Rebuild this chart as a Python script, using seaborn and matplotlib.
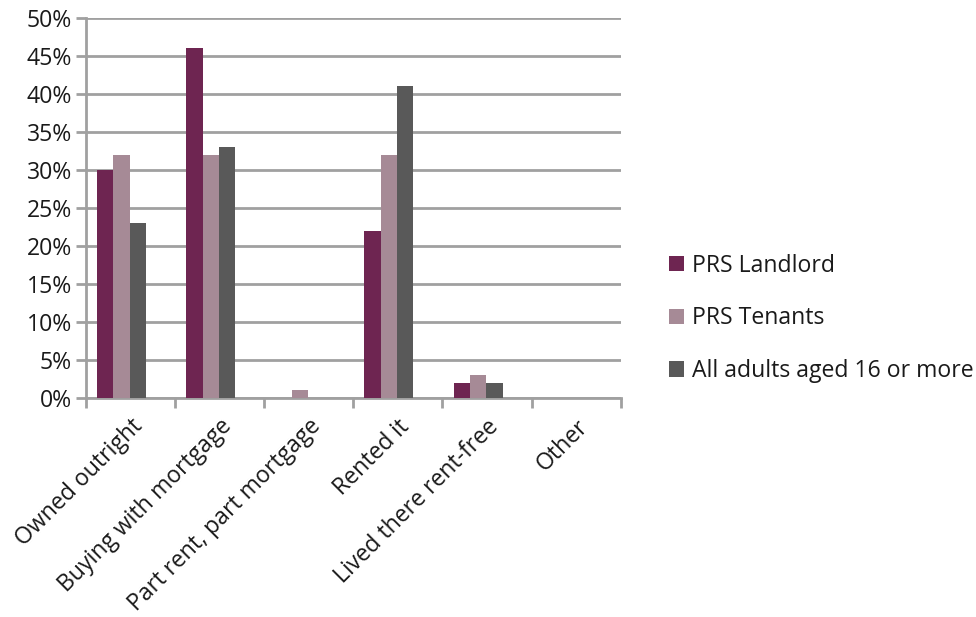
import numpy as np
import pandas as pd
import seaborn as sns
import matplotlib.pyplot as plt
from matplotlib.ticker import PercentFormatter, FixedLocator

categories = ["Owned outright", "Buying with mortgage", "Part rent, part mortgage",
              "Rented it", "Lived there rent-free", "Other"]
landlord = [30, 46, 0, 22, 2, 0]
tenants = [32, 32, 1, 32, 3, 0]
all_adults = [23, 33, 0, 41, 2, 0]
series = ["PRS Landlord", "PRS Tenants", "All adults aged 16 or more"]
colors = ["#6E2551", "#A68A96", "#595959"]

df = pd.DataFrame({"category": categories * 3,
                   "value": landlord + tenants + all_adults,
                   "series": np.repeat(series, len(categories))})

sns.set_style("white")
plt.rcParams['font.family'] = ['Open Sans', 'DejaVu Sans']
FS = 16.6
TXT = '#1A1A1A'

fig = plt.figure(figsize=(9.76, 6.17), dpi=100)
ax = fig.add_axes([0.088, 0.355, 0.548, 0.616])

sns.barplot(data=df, x="category", y="value", hue="series", order=categories,
            hue_order=series, palette=colors, width=0.55, saturation=1,
            linewidth=0, ax=ax, zorder=3, legend=True)

# the bar groups sit a little left of the category centres in the original
for p in ax.patches:
    p.set_x(p.get_x() - 0.1)

grey = "#A0A0A0"
ax.set_ylim(0, 50)
ax.set_xlim(-0.5, len(categories) - 0.5)
ax.yaxis.set_major_locator(FixedLocator(np.arange(0, 51, 5)))
ax.yaxis.set_major_formatter(PercentFormatter(decimals=0))
ax.grid(axis='y', color=grey, linewidth=2, zorder=0)
ax.set_axisbelow(True)
for s in ['top', 'right']:
    ax.spines[s].set_visible(False)
for s in ['left', 'bottom']:
    ax.spines[s].set_color(grey)
    ax.spines[s].set_linewidth(2)

# category ticks sit on the boundaries, labels at the centres
ax.set_xticks(np.arange(len(categories)))
ax.set_xticklabels(categories, rotation=45, ha='right', rotation_mode='anchor',
                   fontsize=FS, color=TXT)
ax.set_xticks(np.arange(-0.5, len(categories)), minor=True)
ax.tick_params(axis='x', which='major', length=0, pad=12)
ax.tick_params(axis='x', which='minor', length=7, width=2, color=grey,
               direction='out', bottom=True)
ax.tick_params(axis='y', length=7, width=2, color=grey, direction='out',
               left=True, labelsize=FS, labelcolor=TXT, pad=3)
ax.set_xlabel("")
ax.set_ylabel("")

handles, labels = ax.get_legend_handles_labels()
leg = ax.legend(handles, labels, loc='center left', bbox_to_anchor=(0.676, 0.484),
                bbox_transform=fig.transFigure, frameon=False, fontsize=FS,
                handlelength=0.66, handleheight=0.66, handletextpad=0.35,
                labelspacing=1.24, borderaxespad=0)
for t in leg.get_texts():
    t.set_color(TXT)

plt.savefig("out.png", dpi=100)
plt.close(fig)
